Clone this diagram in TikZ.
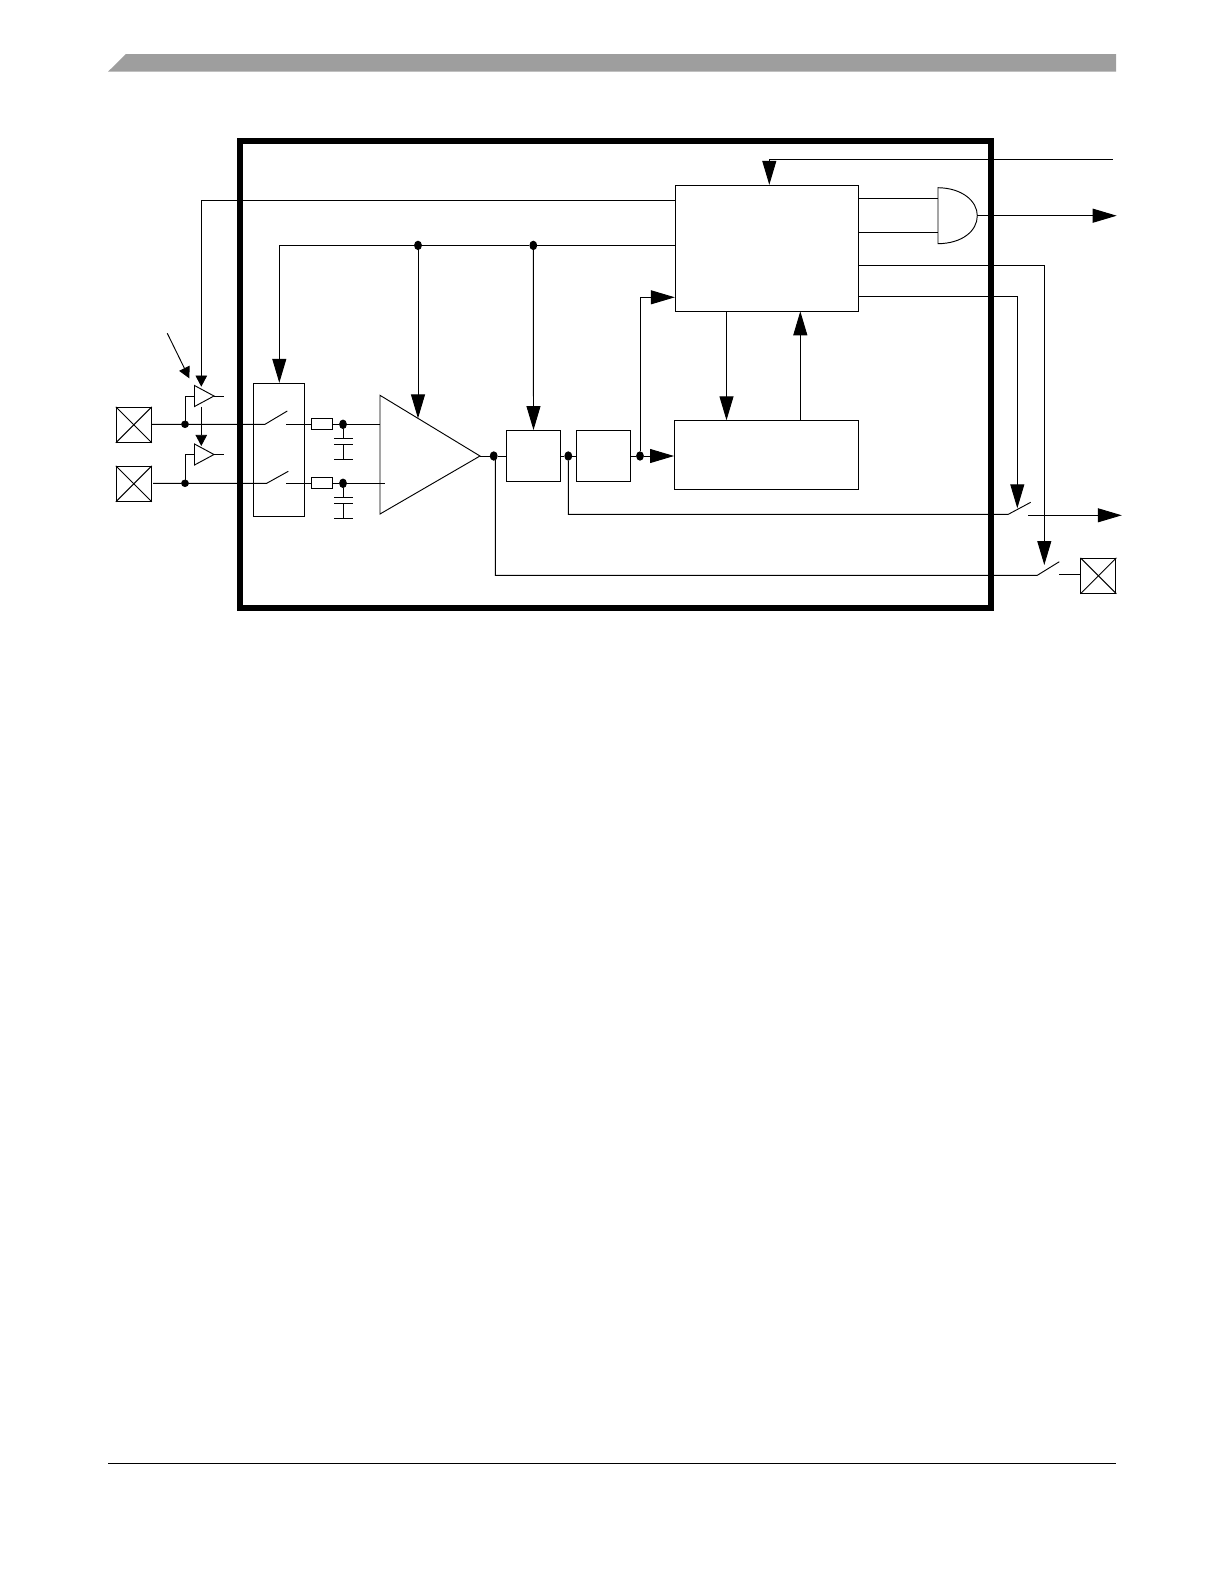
\documentclass[tikz,border=0pt]{standalone}
\usetikzlibrary{arrows.meta,shapes.geometric}
\tikzset{
  blk/.style 2 args={draw,inner sep=0pt,minimum width=#1*0.5bp,minimum height=#2*0.5bp},
  junc/.style={draw,fill,ellipse,inner sep=0pt,minimum width=3.4bp,minimum height=4.2bp},
  sig/.style={-{Triangle[length=12bp,width=7bp]}},
  tinysig/.style={-{Triangle[length=5.6bp,width=5.8bp]}}
}
\begin{document}
\begin{tikzpicture}[x=0.5bp,y=-0.5bp,line width=0.47bp]
  \useasboundingbox (0,0) rectangle (1224,1584);
  % page furniture
  \fill[black!38] (108,71.7) -- (126,54) -- (1116,54) -- (1116,71.7) -- cycle;
  \coordinate (footL) at (108,1463);
  \coordinate (footR) at (1116,1463);
  \draw (footL) -- (footR);
  % outer frame
  \node[blk={751}{466.5},line width=3bp] (frame) at (615.5,374.25) {};
  % blocks
  \node[blk={183}{126}] (ctrl) at (766.8,248.3) {};
  \node[blk={184}{69}] (cnt) at (766.5,454.8) {};
  \node[blk={54.4}{51}] (conv) at (533.5,456) {};
  \node[blk={54.4}{51}] (filt) at (603.5,456) {};
  \node[blk={51}{133}] (mux) at (279.3,449.8) {};
  \node[blk={21.4}{11}] (R-1) at (322,424.3) {};
  \node[blk={21.4}{11}] (R-2) at (322,483.3) {};
  % pads
  \foreach \name/\x/\y in {1/133.8/424.8,2/133.8/483.8,3/1098.4/575.8}{%
    \node[blk={35}{35}] (P-\name) at (\x,\y) {};
    \draw (P-\name.north west) -- (P-\name.south east);
    \draw (P-\name.south west) -- (P-\name.north east);
  }
  % amplifier and buffers
  \coordinate (ampT) at (380,395.3);
  \coordinate (ampB) at (380,514);
  \coordinate (ampO) at (480,456);
  \draw (ampT) -- (ampO) -- (ampB) -- cycle;
  \foreach \name/\y in {1/396,2/454.5}{%
    \coordinate (B-\name) at (194.5,\y);
    \coordinate (BO-\name) at (214,\y);
    \coordinate (BS-\name) at (223.5,\y);
    \draw (194.5,\y-10.5) -- (BO-\name) -- (194.5,\y+10.5) -- cycle;
    \draw (BO-\name) -- (BS-\name);
  }
  % and gate
  \coordinate (gateT) at (938,187.7);
  \coordinate (gateB) at (938,243.7);
  \coordinate (gateO) at (977.3,215.7);
  \draw (gateT) .. controls (962,188) and (977.3,201) .. (gateO)
     .. controls (977.3,231) and (962,243.5) .. (gateB) -- cycle;
  % junctions
  \foreach \name/\x/\y in {c/343/424.3,d/343/483.3,
      e/418/245.4,f/533.3/245.4,g/493.7/456,h/568.3/456,i/640/456}{%
    \node[junc] (J-\name) at (\x,\y) {};
  }
  \foreach \name/\y in {a/424.3,b/483.3}{%
    \node[junc,minimum height=3.2bp] (J-\name) at (185,\y) {};
  }
  % inputs and switches
  \coordinate (swA) at (265,424.3);
  \coordinate (swB) at (266.7,483.3);
  \draw (P-1.east |- J-a) -- (J-a) -- (swA) -- (287.3,411);
  \draw (153,483.3) -- (J-b) -- (swB) -- (288.3,471.3);
  \draw (286,424.3) -- (R-1.west);
  \draw (286,483.3) -- (R-2.west);
  \draw (R-1.east) -- (J-c) -- (380,424.3);
  \draw (R-2.east) -- (J-d) -- (385,483.3);
  \draw (J-a) |- (B-1);
  \draw (J-b) |- (B-2);
  % capacitors
  \foreach \name/\y in {c/424.3,d/483.3}{%
    \draw (J-\name) -- (343,\y+14);
    \draw (334.3,\y+14) -- (352.7,\y+14);
    \draw (334.3,\y+19.7) -- (352.7,\y+19.7);
    \draw (343,\y+19.7) -- (343,\y+35);
    \draw (334.3,\y+35) -- (352.7,\y+35);
  }
  % signal path
  \draw (ampO) -- (J-g) -- (conv.west);
  \draw (conv.east) -- (J-h) -- (filt.west);
  \draw (filt.east) -- (J-i);
  \draw[sig] (J-i) -- (cnt.west |- J-i);
  \draw[sig] (J-i) |- (ctrl.west |- 0,297.3);
  % control lines
  \coordinate (swC) at (1008.3,514.3);
  \coordinate (swD) at (1037.3,575.3);
  \coordinate (tapG) at (495.3,456);
  \draw[sig] (ctrl.west |- 0,245.4) -- (J-f) -- (J-e) -| (mux.north);
  \draw[sig] (J-e) -- (418,418.4);
  \draw[sig] (J-f) -- (conv.north);
  \draw[tinysig] (ctrl.west |- 0,200.3) -| (201.3,386.7);
  \draw[tinysig] (201.3,406.5) -- (201.3,446);
  \coordinate (slantA) at (167.3,333.3);
  \coordinate (slantB) at (189.3,378.3);
  \draw[tinysig] (slantA) -- (slantB);
  \coordinate (topR) at (1112.7,159.3);
  \draw[sig] (topR) -| (ctrl.north -| 769.3,0);
  \draw[sig] (726.5,311.3) -- (726.5,420.3);
  \draw[sig] (800.3,420.3) -- (800.3,311.3);
  % right hand side
  \draw (ctrl.east |- 0,198.3) -- (gateT |- 0,198.3);
  \draw (ctrl.east |- 0,232.3) -- (gateT |- 0,232.3);
  \coordinate (outG) at (1116.7,215.7);
  \draw[sig] (gateO) -- (outG);
  \coordinate (outS) at (1121.8,515.3);
  \draw[sig] (1028.3,515.3) -- (outS);
  \draw[sig] (ctrl.east |- 0,296) -| (1017.3,508.3);
  \draw[sig] (ctrl.east |- 0,265.3) -| (1044.3,565);
  \draw (J-h) |- (swC) -- (1030.7,502.3);
  \draw (tapG) |- (swD) -- (1059.3,561.7);
  \draw (1059.3,574.5) -- (P-3.west |- 0,574.5);
\end{tikzpicture}
\end{document}
